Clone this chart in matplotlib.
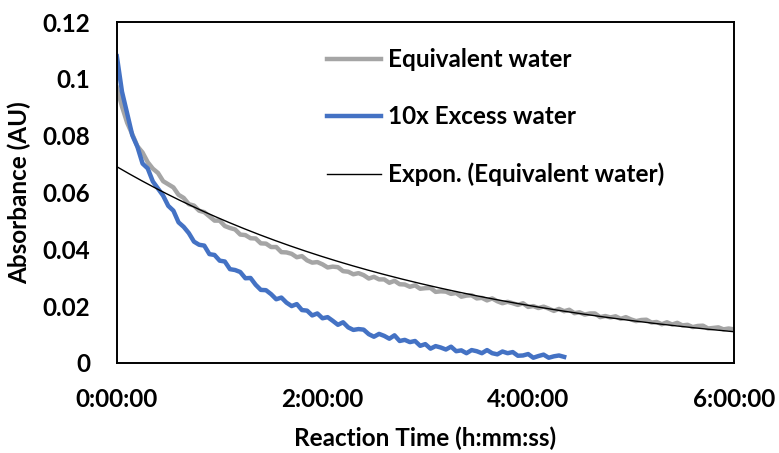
import numpy as np
import matplotlib
matplotlib.use("Agg")
import matplotlib.pyplot as plt
from matplotlib.ticker import FuncFormatter, MultipleLocator

# ---- data (time in minutes, absorbance in AU)
gray_min = [0, 3, 6, 9, 12, 15, 18, 21, 24, 27, 30, 33, 36, 39, 42, 45, 48, 51, 54, 57,
            60, 63, 66, 69, 72, 75, 78, 81, 84, 87, 90, 93, 96, 99, 102, 105, 108, 111, 114, 117,
            120, 123, 126, 129, 132, 135, 138, 141, 144, 147, 150, 153, 156, 159, 162, 165, 168, 171, 174, 177,
            180, 183, 186, 189, 192, 195, 198, 201, 204, 207, 210, 213, 216, 219, 222, 225, 228, 231, 234, 237,
            240, 243, 246, 249, 252, 255, 258, 261, 264, 267, 270, 273, 276, 279, 282, 285, 288, 291, 294, 297,
            300, 303, 306, 309, 312, 315, 318, 321, 324, 327, 330, 333, 336, 339, 342, 345, 348, 351, 354, 357,
            360]
gray_abs = [0.0970, 0.0903, 0.0846, 0.0805, 0.0763, 0.0741, 0.0707, 0.0684, 0.0669, 0.0640,
            0.0629, 0.0618, 0.0592, 0.0581, 0.0559, 0.0554, 0.0536, 0.0531, 0.0516, 0.0501,
            0.0501, 0.0482, 0.0475, 0.0470, 0.0452, 0.0450, 0.0439, 0.0438, 0.0421, 0.0420,
            0.0408, 0.0408, 0.0390, 0.0389, 0.0384, 0.0372, 0.0376, 0.0361, 0.0353, 0.0355,
            0.0347, 0.0336, 0.0339, 0.0337, 0.0323, 0.0321, 0.0312, 0.0316, 0.0309, 0.0297,
            0.0303, 0.0294, 0.0294, 0.0282, 0.0289, 0.0277, 0.0276, 0.0268, 0.0273, 0.0261,
            0.0263, 0.0264, 0.0250, 0.0252, 0.0251, 0.0243, 0.0246, 0.0233, 0.0237, 0.0238,
            0.0227, 0.0229, 0.0220, 0.0227, 0.0217, 0.0210, 0.0215, 0.0210, 0.0204, 0.0210,
            0.0197, 0.0200, 0.0193, 0.0198, 0.0191, 0.0183, 0.0190, 0.0182, 0.0187, 0.0175,
            0.0178, 0.0170, 0.0174, 0.0174, 0.0161, 0.0165, 0.0160, 0.0164, 0.0155, 0.0161,
            0.0153, 0.0147, 0.0151, 0.0152, 0.0142, 0.0144, 0.0136, 0.0143, 0.0135, 0.0141,
            0.0132, 0.0134, 0.0126, 0.0130, 0.0131, 0.0121, 0.0123, 0.0125, 0.0118, 0.0121,
            0.0118]

blue_min = [0, 3, 6, 9, 12, 15, 18, 21, 24, 27, 30, 33, 36, 39, 42, 45, 48, 51, 54, 57,
            60, 63, 66, 69, 72, 75, 78, 81, 84, 87, 90, 93, 96, 99, 102, 105, 108, 111, 114, 117,
            120, 123, 126, 129, 132, 135, 138, 141, 144, 147, 150, 153, 156, 159, 162, 165, 168, 171, 174, 177,
            180, 183, 186, 189, 192, 195, 198, 201, 204, 207, 210, 213, 216, 219, 222, 225, 228, 231, 234, 237,
            240, 243, 246, 249, 252, 255, 258, 261]
blue_abs = [0.1080, 0.0955, 0.0879, 0.0802, 0.0761, 0.0702, 0.0685, 0.0639, 0.0614, 0.0589,
            0.0553, 0.0536, 0.0495, 0.0479, 0.0457, 0.0427, 0.0416, 0.0413, 0.0383, 0.0380,
            0.0360, 0.0357, 0.0330, 0.0327, 0.0320, 0.0298, 0.0299, 0.0275, 0.0257, 0.0256,
            0.0242, 0.0224, 0.0230, 0.0212, 0.0200, 0.0207, 0.0186, 0.0184, 0.0167, 0.0174,
            0.0157, 0.0161, 0.0148, 0.0134, 0.0143, 0.0125, 0.0116, 0.0119, 0.0117, 0.0101,
            0.0092, 0.0102, 0.0095, 0.0085, 0.0097, 0.0077, 0.0081, 0.0073, 0.0077, 0.0060,
            0.0066, 0.0050, 0.0059, 0.0054, 0.0047, 0.0057, 0.0041, 0.0044, 0.0034, 0.0045,
            0.0041, 0.0034, 0.0045, 0.0034, 0.0030, 0.0040, 0.0034, 0.0038, 0.0025, 0.0026,
            0.0031, 0.0018, 0.0024, 0.0029, 0.0018, 0.0023, 0.0026, 0.0021]

labels = ["Equivalent water", "10x Excess water", "Expon. (Equivalent water)"]

gray_t = np.array(gray_min) / 60.0
blue_t = np.array(blue_min) / 60.0

# Excel-style exponential trendline: least squares on ln(y)
b, ln_a = np.polyfit(gray_t, np.log(gray_abs), 1)
fit_t = np.linspace(0, 6, 200)
fit_y = np.exp(ln_a) * np.exp(b * fit_t)

plt.rcParams['font.family'] = ['Lato', 'DejaVu Sans']
plt.rcParams['font.weight'] = 'bold'

fig = plt.figure(figsize=(7.79, 4.53), dpi=100)
ax = fig.add_axes([0.150, 0.199, 0.792, 0.752])

ax.plot(gray_t, gray_abs, color='#A5A5A5', lw=3.2, label=labels[0], solid_joinstyle='round')
ax.plot(blue_t, blue_abs, color='#4472C4', lw=3.2, label=labels[1], solid_joinstyle='round')
ax.plot(fit_t, fit_y, color='black', lw=1.0, label=labels[2])

ax.set_xlim(0, 6)
ax.set_ylim(0, 0.12)
ax.xaxis.set_major_locator(MultipleLocator(2))
ax.yaxis.set_major_locator(MultipleLocator(0.02))

def hms(x, pos):
    total = int(round(x * 3600))
    return f"{total // 3600}:{(total % 3600) // 60:02d}:{total % 60:02d}"

ax.xaxis.set_major_formatter(FuncFormatter(hms))
ax.yaxis.set_major_formatter(FuncFormatter(lambda v, p: "0" if v == 0 else f"{v:g}"))

for s in ax.spines.values():
    s.set_linewidth(1.4)
    s.set_color('black')
ax.tick_params(length=0, labelsize=17.5)
ax.tick_params(axis='y', pad=19)
ax.tick_params(axis='x', pad=18)

ax.set_xlabel("Reaction Time (h:mm:ss)", fontsize=17.5, fontweight='bold', labelpad=11)
ax.set_ylabel("Absorbance (AU)", fontsize=17.5, fontweight='bold', labelpad=8)

leg = ax.legend(loc='upper left', bbox_to_anchor=(0.42, 0.893), bbox_transform=fig.transFigure,
                frameon=False, fontsize=17.5, handlelength=2.2, handletextpad=0.3,
                labelspacing=1.4, borderpad=0, borderaxespad=0)

fig.savefig("out.png", dpi=100)
